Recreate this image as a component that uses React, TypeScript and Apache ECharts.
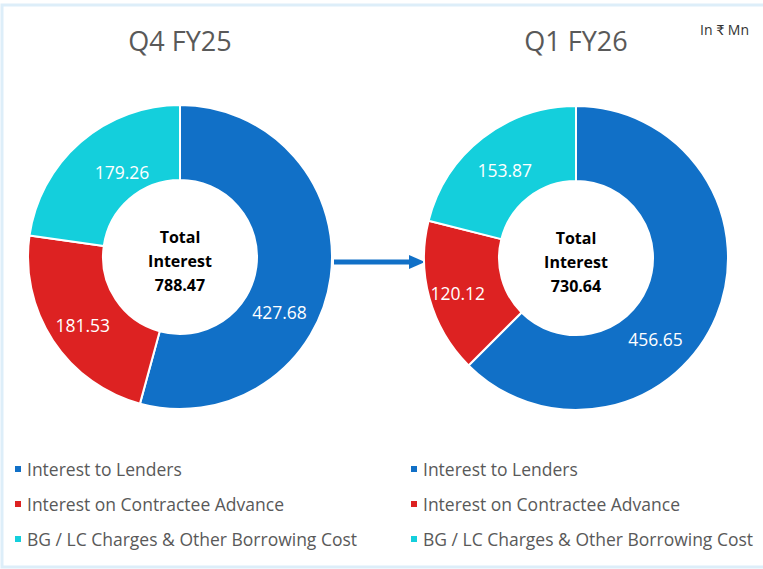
import React, { useEffect, useRef } from "react";
import * as echarts from "echarts";

const categories = [
  "Interest to Lenders",
  "Interest on Contractee Advance",
  "BG / LC Charges & Other Borrowing Cost",
];
const periods = ["Q4 FY25", "Q1 FY26"];
const q4fy25Values = [427.68, 181.53, 179.26];
const q1fy26Values = [456.65, 120.12, 153.87];
const totals = [788.47, 730.64];
const unitLabel = "In ₹ Mn";

const COLORS = ["#1170C7", "#DD2222", "#14CFDC"];
const FONT = "'Open Sans', Lato, sans-serif";
// manual label nudges (px) to mimic the reference placement
const LABEL_NUDGE = [
  [[-17, 39], [1, 4], [19, 4]],
  [[-29, 36], [-5, 4], [1, 5]],
];

export default function App() {
  const ref = useRef<HTMLDivElement>(null);
  useEffect(() => {
    if (!ref.current) return;
    const chart = echarts.init(ref.current, null, { renderer: "svg" });
    const centers = [
      [180, 257],
      [576, 258],
    ];
    const seriesData = [q4fy25Values, q1fy26Values];
    const series = seriesData.map((vals, i) => ({
      type: "pie",
      name: periods[i],
      center: centers[i],
      radius: [77, 152],
      startAngle: 90,
      clockwise: true,
      avoidLabelOverlap: false,
      itemStyle: { borderColor: "#ffffff", borderWidth: 2 },
      label: {
        show: true,
        position: "inside",
        color: "#ffffff",
        fontSize: 17.5,
        fontFamily: FONT,
        formatter: (p: any) => p.value.toFixed(2),
      },
      labelLayout: (p: any) => ({
        dx: LABEL_NUDGE[i][p.dataIndex][0],
        dy: LABEL_NUDGE[i][p.dataIndex][1],
      }),
      labelLine: { show: false },
      emphasis: { disabled: true },
      data: categories.map((c, k) => ({
        name: c,
        value: vals[k],
        itemStyle: { color: COLORS[k] },
      })),
    }));

    const legendBase = {
      orient: "vertical",
      icon: "rect",
      itemWidth: 8,
      itemHeight: 8,
      itemGap: 17,
      selectedMode: false,
      data: categories,
      textStyle: { color: "#595959", fontSize: 17.5, fontFamily: FONT, padding: [0, 0, 0, 0] },
    };

    chart.setOption({
      animation: false,
      backgroundColor: "#ffffff",
      title: [
        {
          text: periods[0],
          left: 180,
          top: 27,
          padding: 0,
          textAlign: "center",
          textStyle: { color: "#595959", fontSize: 27, fontWeight: "normal", fontFamily: FONT },
        },
        {
          text: periods[1],
          left: 576,
          top: 27,
          padding: 0,
          textAlign: "center",
          textStyle: { color: "#595959", fontSize: 27, fontWeight: "normal", fontFamily: FONT },
        },
        {
          text: unitLabel,
          left: 700,
          top: 22,
          padding: 0,
          textStyle: { color: "#333333", fontSize: 14, fontWeight: "normal", fontFamily: FONT },
        },
        ...totals.map((t, i) => ({
          text: "Total\nInterest\n" + t.toFixed(2),
          left: centers[i][0],
          top: centers[i][1] - 32,
          padding: 0,
          textAlign: "center",
          textStyle: {
            color: "#000000",
            fontSize: 16,
            fontWeight: "bold",
            lineHeight: 24,
            fontFamily: FONT,
          },
        })),
      ],
      legend: [
        { ...legendBase, left: 8, top: 455 },
        { ...legendBase, left: 404, top: 455 },
      ],
      graphic: [
        {
          type: "rect",
          shape: { x: 2, y: 5, width: 770, height: 562 },
          style: { fill: "none", stroke: "#DDEEF9", lineWidth: 3 },
          silent: true,
        },
        {
          type: "line",
          shape: { x1: 334, y1: 262, x2: 412, y2: 262 },
          style: { stroke: "#1170C7", lineWidth: 5 },
        },
        {
          type: "polygon",
          shape: { points: [[409, 255], [425, 262], [409, 269]] },
          style: { fill: "#1170C7" },
        },
      ],
      series,
    });
    return () => chart.dispose();
  }, []);
  return (
    <div
      ref={ref}
      style={{ position: "absolute", left: 0, top: 0, width: 763, height: 569 }}
    />
  );
}
